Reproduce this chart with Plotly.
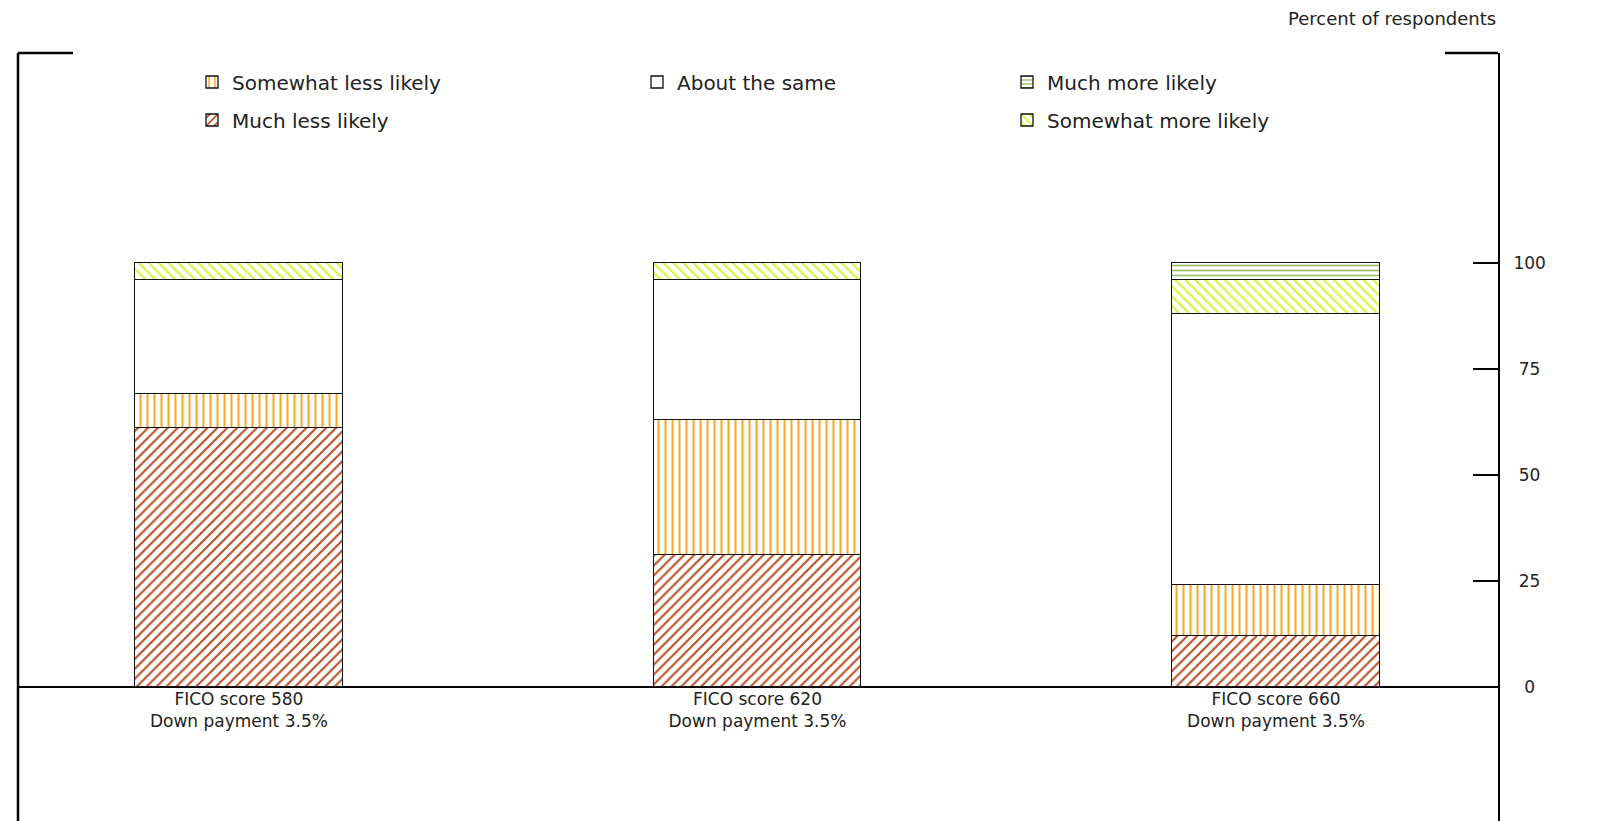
import plotly.graph_objects as go

# ---- data ----
categories = ["FICO score 580<br>Down payment 3.5%",
              "FICO score 620<br>Down payment 3.5%",
              "FICO score 660<br>Down payment 3.5%"]
much_less = [61, 31, 12]
somewhat_less = [8, 32, 12]
about_same = [27, 33, 64]
somewhat_more = [4, 4, 8]
much_more = [0, 0, 4]
y_ticks = [0, 25, 50, 75, 100]
y_tick_labels = ["\u00a0\u00a00", "\u00a025", "\u00a050", "\u00a075", "100"]

FONT = "DejaVu Sans, Liberation Sans, Arial, sans-serif"
W, H = 1604, 821
L, R, T, B = 10, 114, 45, 0
pw, ph = W - L - R, H - T - B

def px_x(px):
    return (px - L) / pw

def px_y(py):
    return 1 - (py - T) / ph

xpos = list(range(len(categories)))

series = [
    ("Much less likely", much_less, "/", "#bb4f28", 7, 0.3, "legend2"),
    ("Somewhat less likely", somewhat_less, "|", "#ffa41c", 7, 0.28, "legend"),
    ("About the same", about_same, "", "#ffffff", 8, 0.3, "legend3"),
    ("Somewhat more likely", somewhat_more, "\\", "#d6f536", 7, 0.3, "legend5"),
    ("Much more likely", much_more, "-", "#99ba5c", 5, 0.32, "legend4"),
]

fig = go.Figure()
for name, vals, shape, col, size, sol, lg in series:
    fig.add_trace(go.Bar(
        x=xpos, y=vals, name=name, width=0.4, legend=lg,
        marker=dict(color="white",
                    line=dict(color="#111111", width=1.3),
                    pattern=dict(shape=shape, fgcolor=col, fgopacity=1, bgcolor="white",
                                 size=size, solidity=sol, fillmode="replace")),
        hoverinfo="skip",
    ))

# legend placement (text start x, center y in pixels)
legend_pos = {
    "legend": (232, 82),
    "legend2": (232, 120),
    "legend3": (677, 82),
    "legend4": (1047, 82),
    "legend5": (1047, 120),
}
leg_layout = {}
for key, (tx, ty) in legend_pos.items():
    leg_layout[key] = dict(x=px_x(tx - 48), y=px_y(ty - 8), xanchor="left", yanchor="middle",
                           bgcolor="rgba(0,0,0,0)", font=dict(family=FONT, size=20, color="#222222"),
                           itemclick=False, itemdoubleclick=False)

fig.update_layout(
    width=W, height=H,
    margin=dict(l=L, r=R, t=T, b=B),
    paper_bgcolor="white", plot_bgcolor="white",
    barmode="stack", bargap=0,
    showlegend=True,
    font=dict(family=FONT, size=18, color="#222222"),
    xaxis=dict(range=[-0.426, 2.428], tickmode="array", tickvals=xpos, ticktext=categories,
               showgrid=False, zeroline=False, showline=False, ticks="",
               anchor="free", position=px_y(679), tickfont=dict(size=17, color="#222222"),
               fixedrange=True),
    yaxis=dict(range=[-33.5, 149.5], side="right", tickmode="array", tickvals=y_ticks,
               ticktext=y_tick_labels, ticks="inside", ticklen=25, tickwidth=2, tickcolor="black",
               showline=True, linewidth=2, linecolor="black", showgrid=False,
               zeroline=True, zerolinewidth=2, zerolinecolor="black",
               ticklabelstandoff=10, tickfont=dict(size=17, color="#222222"), fixedrange=True),
    shapes=[
        dict(type="line", xref="paper", yref="paper", x0=0, x1=0, y0=0, y1=1,
             line=dict(color="black", width=2.5)),
        dict(type="line", xref="paper", yref="paper", x0=0, x1=px_x(65), y0=1, y1=1,
             line=dict(color="black", width=2.5)),
        dict(type="line", xref="paper", yref="paper", x0=px_x(1437), x1=1, y0=1, y1=1,
             line=dict(color="black", width=2.5)),
    ],
    annotations=[
        dict(text="Percent of respondents", xref="paper", yref="paper", x=1, y=px_y(11),
             xanchor="right", yanchor="middle", showarrow=False,
             font=dict(family=FONT, size=18, color="#222222")),
    ],
    **leg_layout,
)

fig.write_html("out.html")
